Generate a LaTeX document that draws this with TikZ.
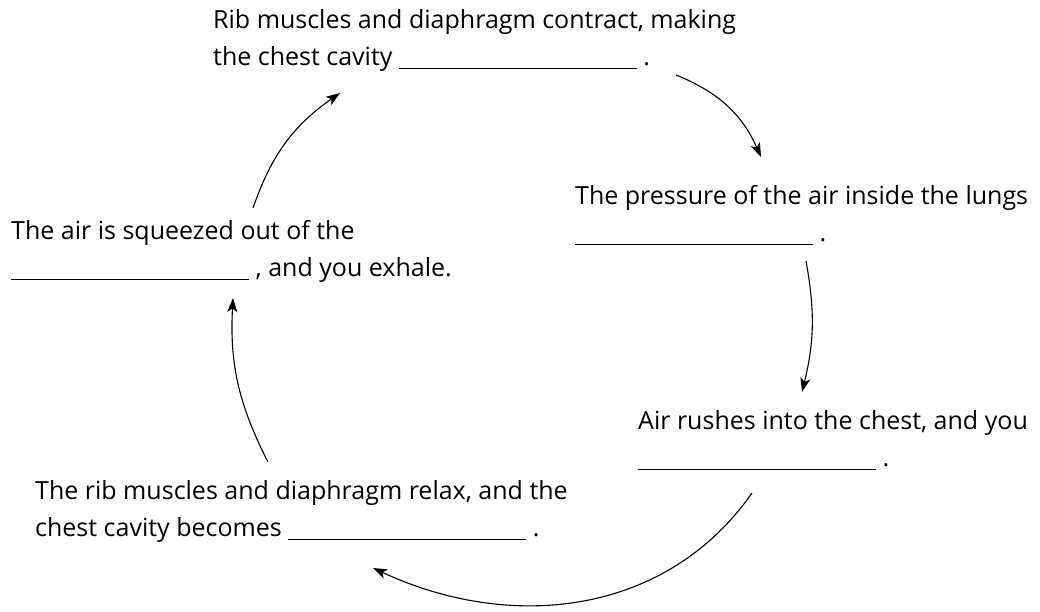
\documentclass[tikz,border=0pt]{standalone}
\usepackage{fontspec}
\setmainfont{Open Sans}
\usetikzlibrary{arrows.meta, calc}
\tikzstyle{stagetext} = [anchor=base west, align=left, inner sep=0pt, font=\fontsize{25}{37}\selectfont]
\tikzstyle{arrow} = [line width=1.1pt, -{Stealth[length=14pt, width=10pt, inset=3.5pt]}]
\newcommand{\blank}{\rule[-3pt]{238pt}{1.3pt}}

\begin{document}
\begin{tikzpicture}[x=1pt, y=1pt]
		\useasboundingbox (0,0) rectangle (1040,612);

		\node (Contract) [stagetext] at (213,546) {Rib muscles and diaphragm contract, making\\the chest cavity \blank{} .};
		\node (Pressure) [stagetext] at (575,370) {The pressure of the air inside the lungs\\\blank{} .};
		\node (Rushes) [stagetext] at (638,145) {Air rushes into the chest, and you\\\blank{} .};
		\node (Relax) [stagetext] at (35,75) {The rib muscles and diaphragm relax, and the\\chest cavity becomes \blank{} .};
		\node (Exhale) [stagetext] at (11,335) {The air is squeezed out of the\\\blank{} , and you exhale.};

		% arrow ends
		\coordinate (ContractOut) at (676,537);
		\coordinate (PressureIn) at (761,455);
		\coordinate (PressureOut) at (806,351);
		\coordinate (RushesIn) at (802,220);
		\coordinate (RushesOut) at (752,119);
		\coordinate (RelaxIn) at (373,44);
		\coordinate (RelaxOut) at (268,150);
		\coordinate (ExhaleIn) at (233,314);
		\coordinate (ExhaleOut) at (253,404);
		\coordinate (ContractIn) at (340,519);

		\draw [arrow] (ContractOut) to[bend left=22] (PressureIn);
		\draw [arrow] (PressureOut) to[bend left=12] (RushesIn);
		\draw [arrow] (RushesOut) to[out=235, in=-25] (RelaxIn);
		\draw [arrow] (RelaxOut) to[bend left=15] (ExhaleIn);
		\draw [arrow] (ExhaleOut) to[bend left=18] (ContractIn);
	\end{tikzpicture}
\end{document}
